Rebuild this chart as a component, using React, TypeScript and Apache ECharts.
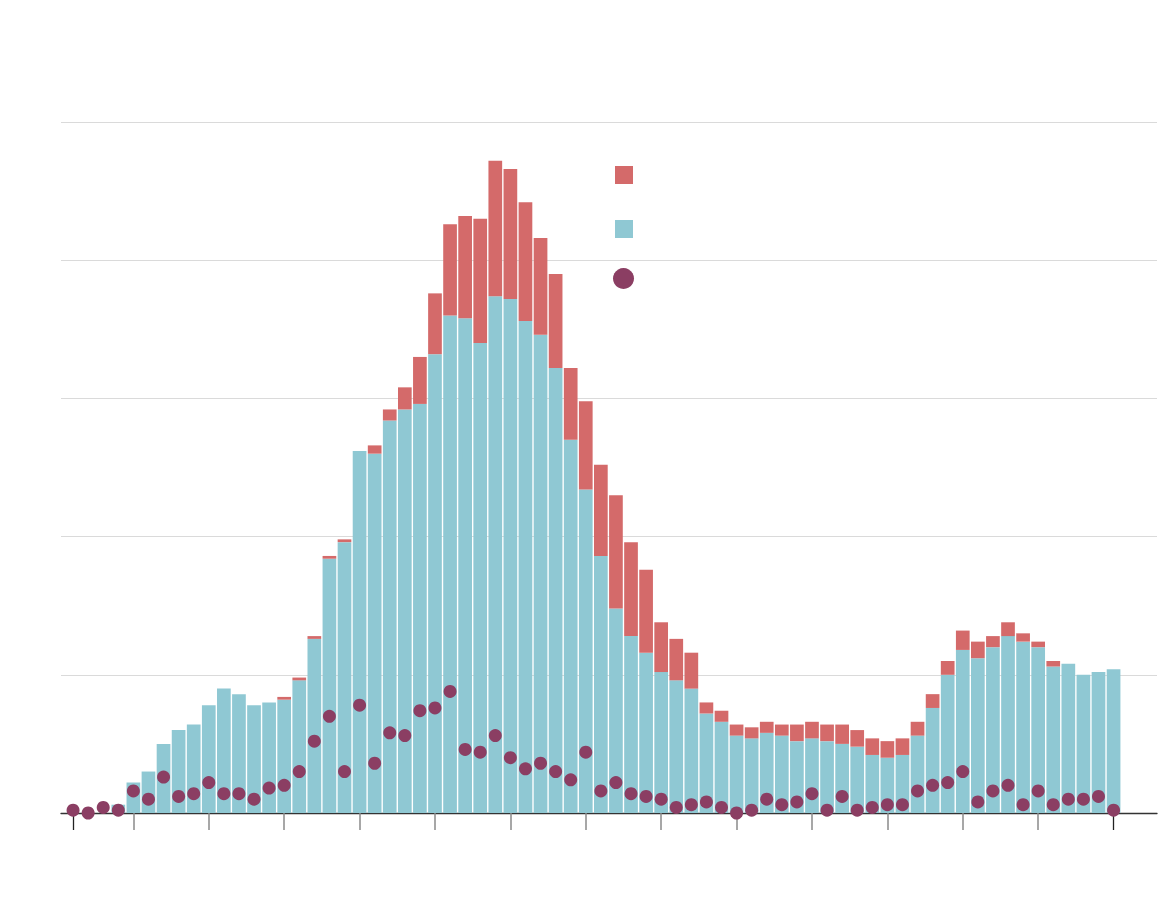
import React, { useEffect, useRef } from "react";
import * as echarts from "echarts";

// Bar index (one per period)
const periods: number[] = Array.from({ length: 70 }, (_, i) => i);

// Lower (teal) stacked bar values
const tealValues: number[] = [
  0, 0, 0, 3, 11, 15, 25, 30, 32, 39,
  45, 43, 39, 40, 41, 48, 63, 92, 98, 131,
  130, 142, 146, 148, 166, 180, 179, 170, 187, 186,
  178, 173, 161, 135, 117, 93, 74, 64, 58, 51,
  48, 45, 36, 33, 28, 27, 29, 28, 26, 27,
  26, 25, 24, 21, 20, 21, 28, 38, 50, 59,
  56, 60, 64, 62, 60, 53, 54, 50, 51, 52,
];

// Upper (red) stacked bar values
const redValues: number[] = [
  0, 0, 0, 0, 0, 0, 0, 0, 0, 0,
  0, 0, 0, 0, 1, 1, 1, 1, 1, 0,
  3, 4, 8, 17, 22, 33, 37, 45, 49, 47,
  43, 35, 34, 26, 32, 33, 41, 34, 30, 18,
  15, 13, 4, 4, 4, 4, 4, 4, 6, 6,
  6, 7, 6, 6, 6, 6, 5, 5, 5, 7,
  6, 4, 5, 3, 2, 2, 0, 0, 0, 0,
];

// Dot series values
const dotValues: number[] = [
  1, 0, 2, 1, 8, 5, 13, 6, 7, 11,
  7, 7, 5, 9, 10, 15, 26, 35, 15, 39,
  18, 29, 28, 37, 38, 44, 23, 22, 28, 20,
  16, 18, 15, 12, 22, 8, 11, 7, 6, 5,
  2, 3, 4, 2, 0, 1, 5, 3, 4, 7,
  1, 6, 1, 2, 3, 3, 8, 10, 11, 15,
  4, 8, 10, 3, 8, 3, 5, 5, 6, 1,
];

// Tick positions on the x axis
const greyTicks: number[] = [4, 9, 14, 19, 24, 29, 34, 39, 44, 49, 54, 59, 64];
const blackTicks: number[] = [0, 69];

const seriesNames = ["Series A", "Series B", "Series C"];

const RED = "#D46A6A";
const TEAL = "#8FC8D3";
const PURPLE = "#8B3E63";

export default function App() {
  const ref = useRef<HTMLDivElement>(null);

  useEffect(() => {
    document.body.style.margin = "0";
    if (!ref.current) return;
    const chart = echarts.init(ref.current, undefined, { renderer: "svg" });

    const xBase = {
      type: "value" as const,
      min: -0.8,
      max: 71.88,
      splitLine: { show: false },
      axisLabel: { show: false },
    };

    chart.setOption({
      animation: false,
      backgroundColor: "#ffffff",
      grid: { left: 61, right: 3, top: 122, bottom: 111, containLabel: false },
      legend: [
        {
          data: [seriesNames[1]],
          left: 615,
          top: 166,
          orient: "vertical",
          padding: 0,
          itemWidth: 18,
          itemHeight: 18,
          icon: "rect",
          formatter: () => "",
          selectedMode: false,
        },
        {
          data: [seriesNames[0]],
          left: 615,
          top: 220,
          orient: "vertical",
          padding: 0,
          itemWidth: 18,
          itemHeight: 18,
          icon: "rect",
          formatter: () => "",
          selectedMode: false,
        },
        {
          data: [seriesNames[2]],
          left: 613,
          top: 268,
          orient: "vertical",
          padding: 0,
          itemWidth: 21,
          itemHeight: 21,
          icon: "circle",
          formatter: () => "",
          selectedMode: false,
        },
      ],
      xAxis: [
        {
          ...xBase,
          axisLine: { show: true, lineStyle: { color: "#333333", width: 1.3 } },
          axisTick: {
            show: true,
            length: 17,
            customValues: greyTicks,
            lineStyle: { color: "#8a8a8a", width: 1.5 },
          },
        },
        {
          ...xBase,
          position: "bottom",
          axisLine: { show: false },
          axisTick: {
            show: true,
            length: 17,
            customValues: blackTicks,
            lineStyle: { color: "#222222", width: 1.3 },
          },
        },
      ],
      yAxis: {
        type: "value",
        min: 0,
        max: 250,
        interval: 50,
        axisLine: { show: false },
        axisTick: { show: false },
        axisLabel: { show: false },
        splitLine: { show: true, lineStyle: { color: "#dadada", width: 1 } },
      },
      series: [
        {
          name: seriesNames[0],
          type: "bar",
          stack: "total",
          barWidth: 13.7,
          encode: { x: 1, y: 0 },
          itemStyle: { color: TEAL },
          data: periods.map((p, i) => [tealValues[i], p]),
        },
        {
          name: seriesNames[1],
          type: "bar",
          stack: "total",
          barWidth: 13.7,
          encode: { x: 1, y: 0 },
          itemStyle: { color: RED },
          data: periods.map((p, i) => [redValues[i], p]),
        },
        {
          name: seriesNames[2],
          type: "scatter",
          symbolSize: 13,
          z: 5,
          itemStyle: { color: PURPLE, opacity: 1 },
          data: periods.map((p, i) => [p, dotValues[i]]),
        },
      ],
    });

    return () => chart.dispose();
  }, []);

  return <div ref={ref} style={{ width: 1160, height: 924 }} />;
}
